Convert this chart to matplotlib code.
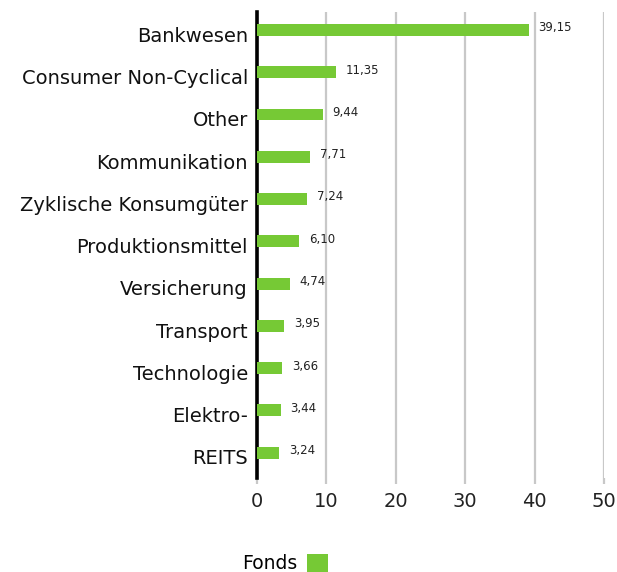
import matplotlib.pyplot as plt
from matplotlib.patches import Patch

plt.rcParams['font.family'] = ['DejaVu Sans']

# Sektoren und Gewichtungen (%)
categories = ["Bankwesen", "Consumer Non-Cyclical", "Other", "Kommunikation",
              "Zyklische Konsumgüter", "Produktionsmittel", "Versicherung",
              "Transport", "Technologie", "Elektro-", "REITS"]
values = [39.15, 11.35, 9.44, 7.71, 7.24, 6.10, 4.74, 3.95, 3.66, 3.44, 3.24]
xticks = [0, 10, 20, 30, 40, 50]

GREEN = "#76c935"
GRID = "#c8c8c8"


def createGraph():
    fig = plt.figure(figsize=(6.17, 5.72), dpi=100)
    ax = fig.add_axes([0.4165, 0.1643, 0.5625, 0.815])

    pos = list(range(len(categories)))
    ax.barh(pos, values, height=0.28, color=GREEN, zorder=3)
    for p, v in zip(pos, values):
        ax.annotate(f"{v:.2f}".replace(".", ","), (v, p), xytext=(7, 1.5),
                    textcoords="offset points", va="center", ha="left",
                    fontsize=8.5, color="#222222")

    # category labels, sitting a little below the bar centres like the original
    ax.set_yticks(pos)
    ax.set_yticklabels([])
    for p, name in zip(pos, categories):
        ax.annotate(name, (0, p), xycoords=("axes fraction", "data"),
                    xytext=(-6.5, -4.5), textcoords="offset points",
                    ha="right", va="center", fontsize=14, color="#111111")

    ax.set_xlim(0, 50)
    ax.set_ylim(len(categories) - 0.4, -0.43)
    ax.set_xticks(xticks)
    ax.set_xticklabels([str(t) for t in xticks], fontsize=14, color="#222222")

    ax.grid(axis="x", color=GRID, linewidth=1.6, zorder=0)
    for s in ["top", "right", "bottom"]:
        ax.spines[s].set_visible(False)
    ax.spines["left"].set_linewidth(2.6)
    ax.spines["left"].set_color("black")
    ax.tick_params(axis="y", length=0)
    ax.tick_params(axis="x", length=4, width=1.6, color=GRID, pad=6)

    handle = Patch(facecolor=GREEN, edgecolor="none")
    fig.legend([handle], ["Fonds"], loc="center", bbox_to_anchor=(0.462, 0.015),
               frameon=False, markerfirst=False, fontsize=13.5,
               handlelength=1.1, handleheight=1.1, handletextpad=0.5)

    fig.savefig("out.png", dpi=100)


if __name__ == '__main__':
    createGraph()
